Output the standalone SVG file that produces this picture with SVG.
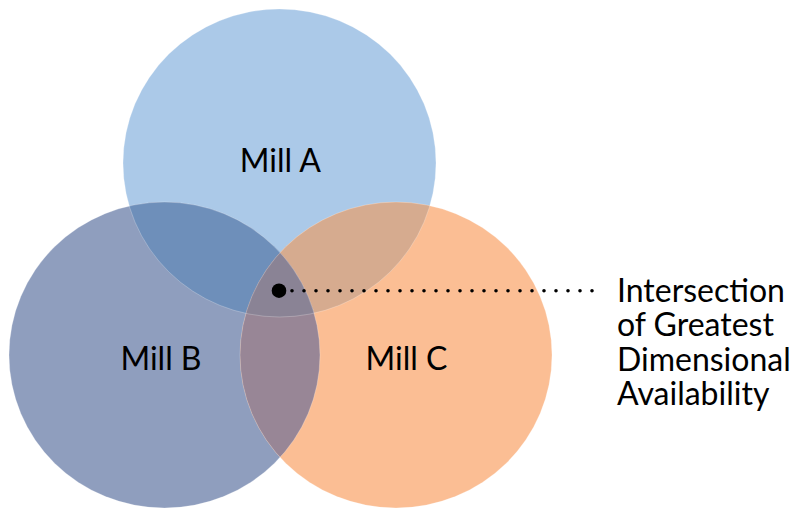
<svg xmlns="http://www.w3.org/2000/svg" width="793" height="508" viewBox="0 0 793 508">
<style>
text{font-family:Lato,"Open Sans","Liberation Sans",sans-serif;font-weight:400;font-size:32px;fill:#000}
.lbl{text-anchor:middle}
.edge{fill:none;stroke:#fff;stroke-opacity:0.3;stroke-width:0.8}
</style>
<defs>
<ellipse id="eA" cx="279.5" cy="163" rx="156.5" ry="154"/>
<ellipse id="eB" cx="164.5" cy="355" rx="155.5" ry="153"/>
<ellipse id="eC" cx="396" cy="355" rx="156" ry="153"/>
<clipPath id="cA"><use href="#eA"/></clipPath>
<clipPath id="cB"><use href="#eB"/></clipPath>
<clipPath id="cC"><use href="#eC"/></clipPath>
</defs>
<rect width="793" height="508" fill="#fff"/>
<g id="millA"><use href="#eA" fill="#ABC9E8"/><text class="lbl" x="280.3" y="172.3">Mill A</text></g>
<g id="millB"><use href="#eB" fill="#8F9EBE"/></g>
<g id="millC"><use href="#eC" fill="#FBBE94"/></g>
<g id="overlaps">
<use href="#eB" fill="#6E8FBA" clip-path="url(#cA)"/>
<use href="#eC" fill="#D6AB8F" clip-path="url(#cA)"/>
<use href="#eC" fill="#988696" clip-path="url(#cB)"/>
<g clip-path="url(#cA)"><use href="#eC" fill="#8A8395" clip-path="url(#cB)"/></g>
<use href="#eA" class="edge"/>
<use href="#eB" class="edge"/>
<use href="#eC" class="edge"/>
</g>
<g id="labels">
<text class="lbl" x="161" y="370">Mill B</text>
<text class="lbl" x="406.5" y="370">Mill C</text>
</g>
<g id="callout">
<circle cx="279" cy="290.7" r="7.3" fill="#000"/>
<line x1="292" y1="290.7" x2="604" y2="290.7" stroke="#000" stroke-width="3.6" stroke-linecap="round" stroke-dasharray="0 12"/>
<text x="617" y="302">Intersection</text>
<text x="617" y="336.3">of Greatest</text>
<text x="617" y="370.6">Dimensional</text>
<text x="617" y="405">Availability</text>
</g>
</svg>
